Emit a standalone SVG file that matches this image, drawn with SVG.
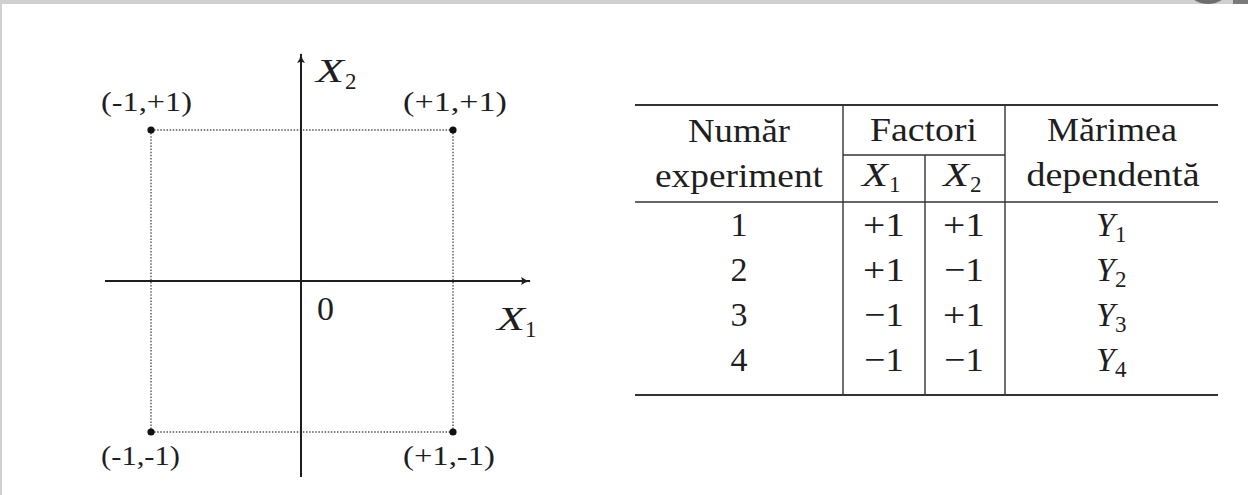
<svg xmlns="http://www.w3.org/2000/svg" width="1248" height="495" viewBox="0 0 1248 495">
<style>
  .t { font-family: "Liberation Serif", "Times New Roman", serif; fill: #1e1e1e; }
  .tab { font-size: 34px; }
  .lab { font-size: 28px; }
  .it { font-style: italic; }
  .sub { font-size: 23px; }
  .axis { stroke: #1e1e1e; stroke-width: 2; fill: none; }
  .dot { stroke: #555; stroke-width: 1.4; stroke-dasharray: 1.5 1.6; fill: none; }
  .rule { stroke: #333; fill: none; }
</style>
<defs>
  <marker id="arr" viewBox="0 0 10 8" refX="9" refY="4" markerWidth="10" markerHeight="8" markerUnits="userSpaceOnUse" orient="auto">
    <path d="M0,0 Q4,3.2 10,4 Q4,4.8 0,8 Q2,4 0,0 z" fill="#1e1e1e"/>
  </marker>
</defs>
<rect x="0" y="0" width="1248" height="495" fill="#ffffff"/>
<rect x="0" y="0" width="1248" height="4" fill="#d0d0d0"/>
<rect x="0" y="0" width="2" height="495" fill="#d0d0d0"/>
<ellipse cx="1208" cy="-6" rx="17" ry="10" fill="#6e6e6e"/>
<rect x="1233" y="0" width="15" height="4" fill="#7a7a7a"/>

<g id="plot">
  <g id="connectors">
    <line class="dot" x1="151" y1="130" x2="453" y2="130"/>
    <line class="dot" x1="151" y1="432" x2="453" y2="432"/>
    <line class="dot" x1="151" y1="130" x2="151" y2="432"/>
    <line class="dot" x1="453" y1="130" x2="453" y2="432"/>
    <line class="axis" x1="301" y1="477" x2="301" y2="54" marker-end="url(#arr)"/>
    <line class="axis" x1="105" y1="281" x2="530" y2="281" marker-end="url(#arr)"/>
  </g>
  <g id="p-mp"><circle cx="151" cy="130" r="3.6" fill="#111"/><text class="t lab" x="101" y="111" textLength="91" lengthAdjust="spacingAndGlyphs">(-1,+1)</text></g>
  <g id="p-pp"><circle cx="453" cy="130" r="3.6" fill="#111"/><text class="t lab" x="403" y="111" textLength="104" lengthAdjust="spacingAndGlyphs">(+1,+1)</text></g>
  <g id="p-mm"><circle cx="151" cy="432" r="3.6" fill="#111"/><text class="t lab" x="101" y="465" textLength="79" lengthAdjust="spacingAndGlyphs">(-1,-1)</text></g>
  <g id="p-pm"><circle cx="453" cy="432" r="3.6" fill="#111"/><text class="t lab" x="403" y="465" textLength="92" lengthAdjust="spacingAndGlyphs">(+1,-1)</text></g>
  <g id="lab-x2"><text class="t tab it" x="316" y="82" textLength="28" lengthAdjust="spacingAndGlyphs">X</text><text class="t sub" x="345" y="89">2</text></g>
  <g id="lab-x1"><text class="t tab it" x="497" y="330" textLength="28" lengthAdjust="spacingAndGlyphs">X</text><text class="t sub" x="525" y="337">1</text></g>
  <g id="lab-0"><text class="t tab" x="317" y="320">0</text></g>
</g>

<g id="table">
  <line class="rule" x1="635" y1="105" x2="1218" y2="105" stroke-width="2"/>
  <line class="rule" x1="635" y1="202" x2="1218" y2="202" stroke-width="1.6"/>
  <line class="rule" x1="635" y1="395" x2="1218" y2="395" stroke-width="2"/>
  <line class="rule" x1="843" y1="155" x2="1005" y2="155" stroke-width="1.4"/>
  <line class="rule" x1="843" y1="105" x2="843" y2="395" stroke-width="1.4"/>
  <line class="rule" x1="925" y1="155" x2="925" y2="395" stroke-width="1.4"/>
  <line class="rule" x1="1005" y1="105" x2="1005" y2="395" stroke-width="1.4"/>

  <g id="hdr">
    <text class="t tab" x="739" y="142" text-anchor="middle" textLength="102" lengthAdjust="spacingAndGlyphs">Număr</text>
    <text class="t tab" x="739" y="187" text-anchor="middle" textLength="168" lengthAdjust="spacingAndGlyphs">experiment</text>
    <text class="t tab" x="923.5" y="141" text-anchor="middle" textLength="107" lengthAdjust="spacingAndGlyphs">Factori</text>
    <text class="t tab" x="1112" y="141" text-anchor="middle" textLength="130" lengthAdjust="spacingAndGlyphs">Mărimea</text>
    <text class="t tab" x="1113" y="186" text-anchor="middle" textLength="173" lengthAdjust="spacingAndGlyphs">dependentă</text>
    <text class="t tab it" x="862" y="186" textLength="26" lengthAdjust="spacingAndGlyphs">X</text><text class="t sub" x="889" y="192">1</text>
    <text class="t tab it" x="943" y="186" textLength="26" lengthAdjust="spacingAndGlyphs">X</text><text class="t sub" x="970" y="192">2</text>
  </g>

  <g id="row1">
    <text class="t tab" x="739" y="236" text-anchor="middle">1</text>
    <text class="t tab" x="884" y="236" text-anchor="middle" textLength="42" lengthAdjust="spacingAndGlyphs">+1</text>
    <text class="t tab" x="964" y="236" text-anchor="middle" textLength="42" lengthAdjust="spacingAndGlyphs">+1</text>
    <text class="t tab it" x="1096" y="236">Y</text><text class="t sub" x="1115" y="242">1</text>
  </g>
  <g id="row2">
    <text class="t tab" x="739" y="281" text-anchor="middle">2</text>
    <text class="t tab" x="884" y="281" text-anchor="middle" textLength="42" lengthAdjust="spacingAndGlyphs">+1</text>
    <text class="t tab" x="964" y="281" text-anchor="middle" textLength="40" lengthAdjust="spacingAndGlyphs">−1</text>
    <text class="t tab it" x="1096" y="281">Y</text><text class="t sub" x="1115" y="287">2</text>
  </g>
  <g id="row3">
    <text class="t tab" x="739" y="326" text-anchor="middle">3</text>
    <text class="t tab" x="884" y="326" text-anchor="middle" textLength="40" lengthAdjust="spacingAndGlyphs">−1</text>
    <text class="t tab" x="964" y="326" text-anchor="middle" textLength="42" lengthAdjust="spacingAndGlyphs">+1</text>
    <text class="t tab it" x="1096" y="326">Y</text><text class="t sub" x="1115" y="332">3</text>
  </g>
  <g id="row4">
    <text class="t tab" x="739" y="371" text-anchor="middle">4</text>
    <text class="t tab" x="884" y="371" text-anchor="middle" textLength="40" lengthAdjust="spacingAndGlyphs">−1</text>
    <text class="t tab" x="964" y="371" text-anchor="middle" textLength="40" lengthAdjust="spacingAndGlyphs">−1</text>
    <text class="t tab it" x="1096" y="371">Y</text><text class="t sub" x="1115" y="377">4</text>
  </g>
</g>
</svg>
